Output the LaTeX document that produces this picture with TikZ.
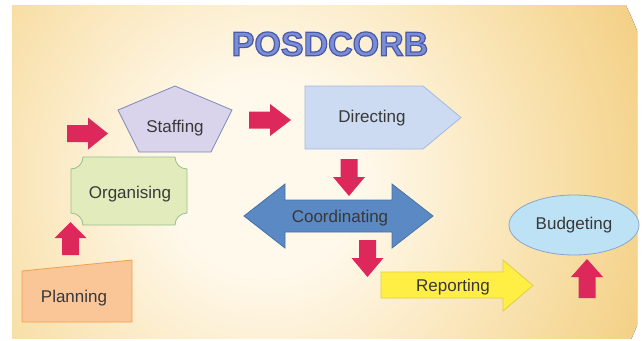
\documentclass[tikz,border=0pt]{standalone}
\usepackage{fontspec}
\setmainfont{Liberation Sans}
\usepackage{xcolor}
\usepackage{tikz}
\usetikzlibrary{shapes.geometric}

\definecolor{bgin}{HTML}{FFF9EC}
\definecolor{bgmid}{HTML}{F7DCA0}
\definecolor{bgout}{HTML}{ECB750}
\definecolor{arrowred}{HTML}{DC285A}
\definecolor{txtgray}{HTML}{383838}
\definecolor{titlefill}{HTML}{7A8ED6}
\definecolor{planfill}{HTML}{FAC697}
\definecolor{planedge}{HTML}{F0A04C}
\definecolor{orgfill}{HTML}{E2EBBC}
\definecolor{orgedge}{HTML}{98BE8E}
\definecolor{stafffill}{HTML}{D9D3EC}
\definecolor{staffedge}{HTML}{7E8AB2}
\definecolor{dirfill}{HTML}{CCDAF2}
\definecolor{diredge}{HTML}{A2B9E0}
\definecolor{coordfill}{HTML}{5A89C4}
\definecolor{coordedge}{HTML}{4A72A6}
\definecolor{repfill}{HTML}{FFEF45}
\definecolor{repedge}{HTML}{DCCE48}
\definecolor{budfill}{HTML}{BEE2F5}
\definecolor{budedge}{HTML}{8AA6C6}

\pgfdeclareradialshading{glow}{\pgfpoint{0bp}{0bp}}{color(0bp)=(bgin); color(6bp)=(bgin); color(20bp)=(bgmid); color(36bp)=(bgout); color(50bp)=(bgout)}
\newcommand\outlined[1]{\special{pdf:literal q 2 Tr 1.2 w 0.29 0.345 0.667 RG}#1\special{pdf:literal Q}}

\begin{document}
\begin{tikzpicture}[x=1pt,y=-1pt,
    lbl/.style={text=txtgray,font=\fontsize{17}{17}\selectfont},
    shapeline/.style={line width=0.8pt}]
    \useasboundingbox (0,0) rectangle (642,340);
    \begin{scope}
      \clip (12,5) rectangle (637,338);
      \fill[shading=glow] (265,178) circle (400pt);
    \end{scope}
    \node[text=titlefill,font=\fontsize{34}{34}\selectfont\bfseries] (title) at (330,44) {\outlined{POSDCORB}};
    \foreach \px/\py/\ang/\len/\hd in {
     67/133.5/0/41/20, 249/120/0/42/21, 70.5/255/90/33/16,
     349/159/-90/37/19, 367.5/240/-90/37/19, 587/298/90/39/18
     } {
      \fill[arrowred,shift={(\px,\py)},rotate=\ang] (0,-8.5) -- ({\len-\hd},-8.5)
        -- ({\len-\hd},-16) -- (\len,0) -- ({\len-\hd},16) -- ({\len-\hd},8.5) -- (0,8.5) -- cycle;
     }
    \draw[shapeline,draw=planedge,fill=planfill] (22,271) -- (132,260) -- (132,322) -- (22,322) -- cycle;
    \node[lbl] (plan) at (74,298) {Planning};
    \draw[shapeline,draw=orgedge,fill=orgfill] (83,157) -- (175,157)
      arc[start angle=180,end angle=270,radius=12pt] -- (187,213)
      arc[start angle=90,end angle=180,radius=12pt] -- (83,225)
      arc[start angle=0,end angle=90,radius=12pt] -- (71,169)
      arc[start angle=270,end angle=360,radius=12pt] -- cycle;
    \node[lbl] (org) at (130,194) {Organising};
    \draw[shapeline,draw=staffedge,fill=stafffill] (175,86) -- (232,110) -- (211,152) -- (139,152) -- (118,110) -- cycle;
    \node[lbl] (staff) at (175,128) {Staffing};
    \draw[shapeline,draw=diredge,fill=dirfill] (305,86) -- (423,86) -- (461,117.5) -- (423,149) -- (305,149) -- cycle;
    \node[lbl] (direct) at (372,118) {Directing};
    \draw[shapeline,draw=coordedge,fill=coordfill] (244,216) -- (285,184) -- (285,200) -- (392,200) -- (392,184)
      -- (433,216) -- (392,248) -- (392,232) -- (285,232) -- (285,248) -- cycle;
    \node[lbl] (coord) at (340,218) {Coordinating};
    \draw[shapeline,draw=repedge,fill=repfill] (381,272) -- (503,272) -- (503,260) -- (533,285.5) -- (503,311)
      -- (503,298) -- (381,298) -- cycle;
    \node[lbl] (report) at (453,287) {Reporting};
    \node[lbl,ellipse,shapeline,draw=budedge,fill=budfill,minimum width=130pt,minimum height=60pt] (budget) at (574,225) {Budgeting};
   \end{tikzpicture}
\end{document}
